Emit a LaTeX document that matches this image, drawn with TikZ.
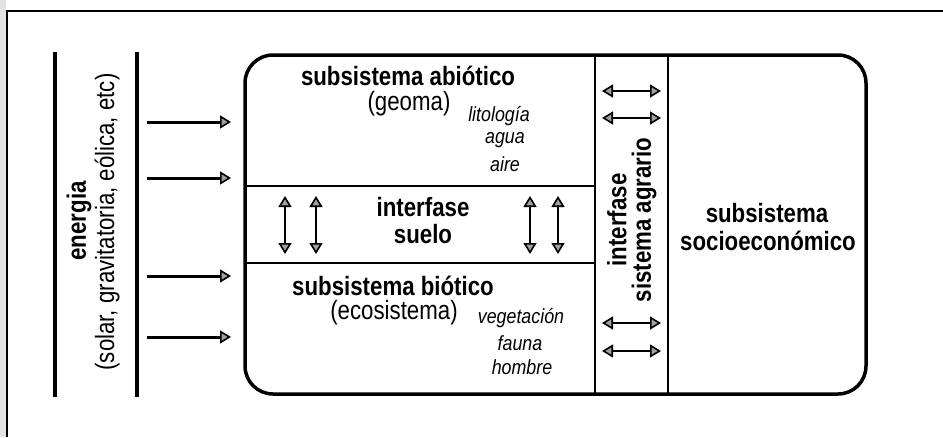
\documentclass[tikz,border=0pt]{standalone}
\usepackage{fontspec}
\setmainfont{Liberation Sans}[FakeStretch=0.84]
\newfontfamily\itfam{Liberation Sans}[FakeStretch=0.87]
\usetikzlibrary{arrows.meta}
\tikzset{
  big/.style={font=\fontsize{26.5}{30}\selectfont\bfseries, inner sep=0pt},
  reg/.style={font=\fontsize{26.5}{30}\selectfont, inner sep=0pt},
  ital/.style={font=\fontsize{20.5}{24}\selectfont\itfam\itshape, inner sep=0pt},
  tip/.tip={Triangle[width=13pt,length=11pt,fill=gray!75,line width=1.6pt]},
  arr/.style={line width=3pt, -tip},
  darr/.style={line width=2.6pt, tip-tip},
  thin/.style={line width=1.8pt},
}
\begin{document}
\begin{tikzpicture}[x=1pt,y=-1pt]
\useasboundingbox (0,0) rectangle (943,437);
% page frame
\fill[gray!22] (0,0) rectangle (6,437);
\draw[line width=1.5pt] (7,437) -- (7,11) -- (943,11);
% energy bars
\draw[line width=3.5pt] (55,52) -- (55,397);
\draw[line width=3.5pt] (137,52) -- (137,397);
\node[big, rotate=90] (en) at (79,221) {energia};
\node[reg, rotate=90] (ensub) at (107,222) {(solar, gravitatoria, eólica, etc)};
% input arrows
\foreach \i/\y in {1/122,2/178,3/276,4/337}{
  \coordinate (a\i) at (147,\y);
  \coordinate (b\i) at (231,\y);
  \draw[arr] (a\i) -- (b\i);
}
% main box
\draw[line width=3.5pt, rounded corners=28pt] (245,55) rectangle (866,394);
\coordinate (h1l) at (245,186); \coordinate (h1r) at (595,186);
\coordinate (h2l) at (245,263); \coordinate (h2r) at (595,263);
\coordinate (v1t) at (595,55); \coordinate (v1b) at (595,394);
\coordinate (v2t) at (668,55); \coordinate (v2b) at (668,394);
\draw[thin] (h1l) -- (h1r);
\draw[thin] (h2l) -- (h2r);
\draw[thin] (v1t) -- (v1b);
\draw[thin] (v2t) -- (v2b);
% abiotic
\node[big] (abio) at (408,76) {subsistema abiótico};
\node[reg] (geoma) at (409,104) {(geoma)};
\node[ital] (lito) at (499,116) {litología};
\node[ital] (agua) at (505,140) {agua};
\node[ital] (aire) at (505,164) {aire};
% interfase suelo
\node[big] (inter) at (423,207) {interfase};
\node[big] (suelo) at (423,234) {suelo};
\foreach \i/\x in {1/285,2/316,3/530,4/558}{
  \coordinate (vt\i) at (\x,196);
  \coordinate (vb\i) at (\x,254);
  \draw[darr] (vt\i) -- (vb\i);
}
% biotic
\node[big] (bio) at (393,286) {subsistema biótico};
\node[reg] (eco) at (394,313) {(ecosistema)};
\node[ital] (veg) at (521,318) {vegetación};
\node[ital] (fauna) at (520,343) {fauna};
\node[ital] (hombre) at (522,367) {hombre};
% interfase sistema agrario
\node[big, rotate=90] (int2) at (617,220) {interfase};
\node[big, rotate=90] (agr) at (644,220) {sistema agrario};
\foreach \i/\y in {1/91,2/118,3/323,4/351}{
  \coordinate (hl\i) at (602,\y);
  \coordinate (hr\i) at (661,\y);
  \draw[darr] (hl\i) -- (hr\i);
}
% socioeconomic
\node[big] (soc1) at (767,213) {subsistema};
\node[big] (soc2) at (768,241) {socioeconómico};
\end{tikzpicture}
\end{document}
